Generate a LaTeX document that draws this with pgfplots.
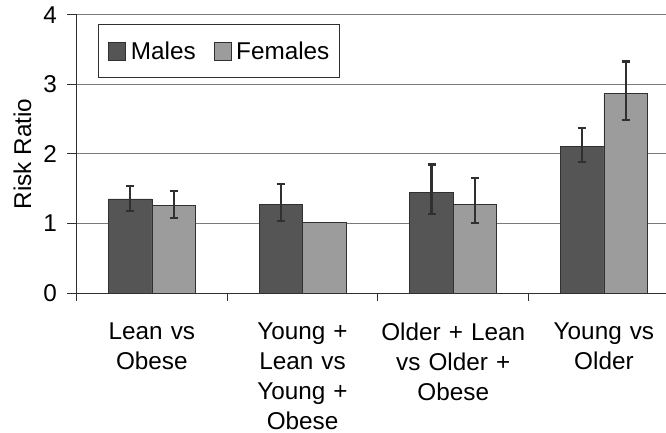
\documentclass[border=0pt]{standalone}
\usepackage{fontspec}
\setmainfont{Liberation Sans}
\usepackage{pgfplots}
\pgfplotsset{compat=1.18}
\definecolor{male}{HTML}{555555}
\definecolor{female}{HTML}{9C9C9C}
\definecolor{edge}{HTML}{303030}
\definecolor{gridc}{HTML}{7A7A7A}
\newcommand{\chartfont}{\fontsize{24.3bp}{30bp}\selectfont}
\begin{document}
\begin{tikzpicture}
\begin{axis}[
  at={(76.5bp,140bp)}, anchor=south west,
  x=150.7bp, y=69.5bp,
  xmin=-0.5, xmax=3.5, ymin=0, ymax=4,
  ybar, bar width=43.5bp,
  axis x line*=bottom, axis y line*=left,
  axis line style={edge, line width=1bp},
  /pgf/number format/assume math mode=true,
  xtick={0,1,2,3},
  xticklabels={{Lean vs\\Obese},{Young +\\Lean vs\\Young +\\Obese},{Older + Lean\\vs Older +\\Obese},{Young vs\\Older}},
  major x tick style={draw=none},
  minor xtick={-0.5,0.5,1.5,2.5,3.5},
  minor x tick style={edge, line width=1bp},
  tick align=outside,
  major tick length=9bp, minor tick length=8bp,
  x tick label style={align=center, text width=160bp, font=\chartfont, anchor=north, yshift=-17bp},
  ytick={0,1,2,3,4},
  y tick style={edge, line width=1bp},
  y tick label style={font=\chartfont, xshift=-7bp},
  ymajorgrids, grid style={gridc, line width=1bp},
  clip=false,
  legend style={at={(axis description cs:0,1)}, anchor=north west, xshift=21.5bp, yshift=-9bp,
    draw=edge, line width=0.8bp, font=\chartfont, legend columns=2,
    inner xsep=10bp, inner ysep=17bp, nodes={inner sep=0pt},
    /tikz/every odd column/.append style={column sep=5bp},
    /tikz/every even column/.append style={column sep=18bp}},
  legend image code/.code={\draw[#1, draw=edge, line width=0.5bp] (0bp,-9bp) rectangle (17bp,9bp);},
]
\addplot[fill=male, draw=edge, line width=0.6bp, bar shift=-21.75bp,
  error bars/.cd, y dir=both, y explicit,
  error bar style={edge, line width=2.2bp},
  error mark options={edge, line width=2.2bp, mark size=4bp, rotate=90}]
  coordinates {
  (0,1.353) += (0,0.187) -= (0,0.173)
  (1,1.28)  += (0,0.287) -= (0,0.244)
  (2,1.45)  += (0,0.40)  -= (0,0.31)
  (3,2.115) += (0,0.255) -= (0,0.235)
  };
\addlegendentry{Males}
\addplot[fill=female, draw=edge, line width=0.6bp, bar shift=21.75bp,
  error bars/.cd, y dir=both, y explicit,
  error bar style={edge, line width=2.2bp},
  error mark options={edge, line width=2.2bp, mark size=4bp, rotate=90}]
  coordinates {
  (0,1.256) += (0,0.214) -= (0,0.176)
  (2,1.28)  += (0,0.37)  -= (0,0.27)
  (3,2.87)  += (0,0.46)  -= (0,0.38)
  };
\addlegendentry{Females}
\addplot[fill=female, draw=edge, line width=0.6bp, bar shift=21.75bp, forget plot]
  coordinates {(1,1.017)};
\node[rotate=90, font=\chartfont, inner sep=0pt] at (axis description cs:-0.0896,0.5) {Risk Ratio};
\end{axis}
\pgfresetboundingbox
\path[use as bounding box] (0,0) rectangle (666bp,433bp);
\end{tikzpicture}
\end{document}
